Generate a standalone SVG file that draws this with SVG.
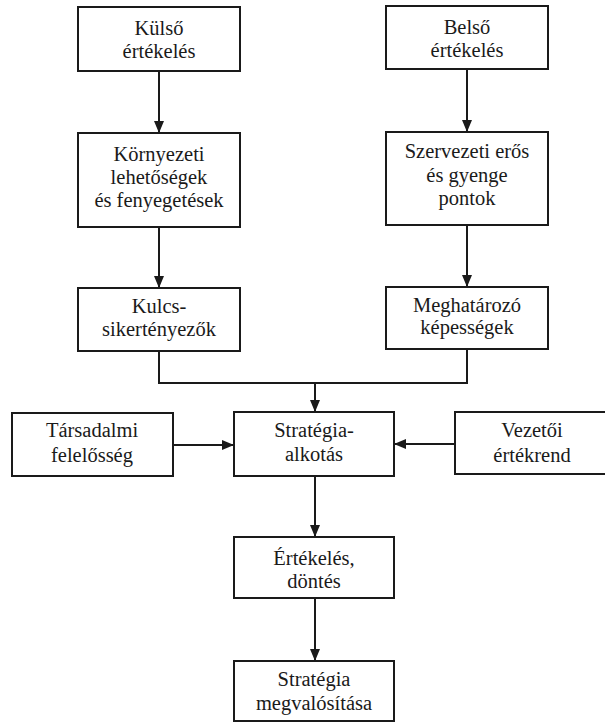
<svg xmlns="http://www.w3.org/2000/svg" width="605" height="722" viewBox="0 0 605 722">
  <style>
    .box { fill: #ffffff; stroke: #1a1a1a; stroke-width: 2; }
    .lbl { font-family: "Liberation Serif", serif; font-size: 20.5px; fill: #1a1a1a; text-anchor: middle; }
    .wire { fill: none; stroke: #1a1a1a; stroke-width: 2; }
  </style>
  <defs>
    <marker id="tip" viewBox="0 0 12 10" refX="12" refY="5" markerWidth="12" markerHeight="10" markerUnits="userSpaceOnUse" orient="auto">
      <path d="M0,0 L12,5 L0,10 Z" fill="#1a1a1a"/>
    </marker>
  </defs>
  <rect width="605" height="722" fill="#ffffff"/>

  <g id="connectors">
    <line class="wire" x1="159" y1="71" x2="159" y2="133" marker-end="url(#tip)"/>
    <line class="wire" x1="467" y1="69" x2="467" y2="132" marker-end="url(#tip)"/>
    <line class="wire" x1="159" y1="227" x2="159" y2="288" marker-end="url(#tip)"/>
    <line class="wire" x1="467" y1="225" x2="467" y2="287" marker-end="url(#tip)"/>
    <polyline class="wire" points="159,351 159,383 467,383 467,349"/>
    <line class="wire" x1="315" y1="383" x2="315" y2="412" marker-end="url(#tip)"/>
    <line class="wire" x1="173" y1="445" x2="234" y2="445" marker-end="url(#tip)"/>
    <line class="wire" x1="455" y1="444" x2="394" y2="444" marker-end="url(#tip)"/>
    <line class="wire" x1="315" y1="476" x2="315" y2="537" marker-end="url(#tip)"/>
    <line class="wire" x1="315" y1="598" x2="315" y2="661" marker-end="url(#tip)"/>
  </g>

  <g id="kulso">
    <rect class="box" x="78" y="7" width="162" height="64"/>
    <text class="lbl" x="159" y="35">Külső</text>
    <text class="lbl" x="159" y="58">értékelés</text>
  </g>
  <g id="belso">
    <rect class="box" x="386" y="6" width="162" height="63"/>
    <text class="lbl" x="467" y="34">Belső</text>
    <text class="lbl" x="467" y="57">értékelés</text>
  </g>
  <g id="kornyezeti">
    <rect class="box" x="78" y="133" width="162" height="94"/>
    <text class="lbl" x="159" y="161">Környezeti</text>
    <text class="lbl" x="159" y="184">lehetőségek</text>
    <text class="lbl" x="159" y="207">és fenyegetések</text>
  </g>
  <g id="szervezeti">
    <rect class="box" x="386" y="132" width="162" height="93"/>
    <text class="lbl" x="467" y="158">Szervezeti erős</text>
    <text class="lbl" x="467" y="182">és gyenge</text>
    <text class="lbl" x="467" y="205">pontok</text>
  </g>
  <g id="kulcs">
    <rect class="box" x="78" y="288" width="162" height="63"/>
    <text class="lbl" x="159" y="313">Kulcs-</text>
    <text class="lbl" x="159" y="336">sikertényezők</text>
  </g>
  <g id="meghatarozo">
    <rect class="box" x="386" y="287" width="162" height="62"/>
    <text class="lbl" x="467" y="312">Meghatározó</text>
    <text class="lbl" x="467" y="334">képességek</text>
  </g>
  <g id="tarsadalmi">
    <rect class="box" x="12" y="413" width="161" height="63"/>
    <text class="lbl" x="92" y="437">Társadalmi</text>
    <text class="lbl" x="92" y="462">felelősség</text>
  </g>
  <g id="strategia-alkotas">
    <rect class="box" x="234" y="412" width="160" height="64"/>
    <text class="lbl" x="314" y="437">Stratégia-</text>
    <text class="lbl" x="314" y="461">alkotás</text>
  </g>
  <g id="vezetoi">
    <rect class="box" x="455" y="412" width="162" height="62"/>
    <text class="lbl" x="532" y="437">Vezetői</text>
    <text class="lbl" x="532" y="462">értékrend</text>
  </g>
  <g id="ertekeles">
    <rect class="box" x="234" y="537" width="160" height="61"/>
    <text class="lbl" x="314" y="565">Értékelés,</text>
    <text class="lbl" x="314" y="588">döntés</text>
  </g>
  <g id="megvalositas">
    <rect class="box" x="234" y="661" width="160" height="60"/>
    <text class="lbl" x="314" y="686">Stratégia</text>
    <text class="lbl" x="314" y="710">megvalósítása</text>
  </g>
</svg>
